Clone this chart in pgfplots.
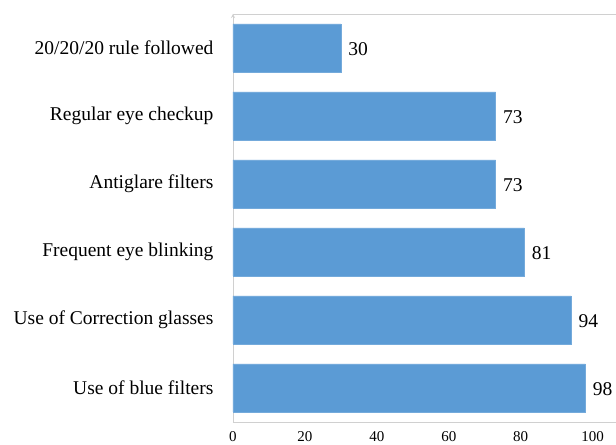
\documentclass[border=0pt]{standalone}
\usepackage{pgfplots}
\pgfplotsset{compat=1.18}
\usepackage{fontspec}
\setmainfont{Liberation Serif}
\definecolor{barblue}{HTML}{5B9BD5}
\definecolor{framegray}{HTML}{D0D0D0}

\begin{document}
\begin{tikzpicture}
\begin{axis}[
  name=ax,
  at={(0,0)}, anchor=south west,
  scale only axis,
  width=383pt, height=408pt,
  xbar,
  bar width=48pt,
  xmin=0, xmax=106.5,
  ymin=-0.5, ymax=5.5,
  xtick={0,20,40,60,80,100},
  ytick={0,1,2,3,4,5},
  yticklabels={Use of blue filters,Use of Correction glasses,Frequent eye blinking,Antiglare filters,Regular eye checkup,20/20/20 rule followed},
  axis x line=box,
  axis y line=left,
  axis line style={framegray, line width=0.8pt},
  major tick length=0pt,
  /pgf/number format/assume math mode=true,
  xticklabel style={font=\fontsize{15}{17}\selectfont, yshift=-6pt},
  yticklabel style={font=\fontsize{19.5}{22}\selectfont, xshift=-16pt},
  nodes near coords,
  every node near coord/.append style={font=\fontsize{19.5}{22}\selectfont, anchor=west, xshift=4pt, yshift=-1pt, text=black},
]
\addplot[fill=barblue, draw=barblue!85!white] coordinates {
  (98,0) (94,1) (81,2) (73,3) (73,4) (30,5)
};
\end{axis}
\pgfresetboundingbox
\path[use as bounding box] ([shift={(-233pt,-23pt)}]ax.south west) rectangle ([shift={(0pt,14pt)}]ax.north east);
\end{tikzpicture}
\end{document}
